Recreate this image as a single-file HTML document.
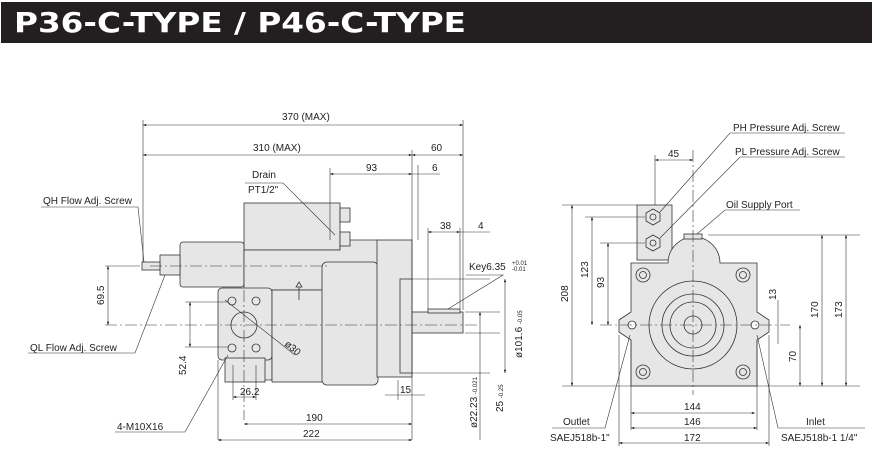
<!DOCTYPE html>
<html><head><meta charset="utf-8"><style>
body{margin:0;background:#fff;}
svg{display:block;font-family:"Liberation Sans",sans-serif;}
</style></head><body>
<svg width="872" height="464" viewBox="0 0 872 464" xmlns="http://www.w3.org/2000/svg">
<defs>
<marker id="a" viewBox="0 0 8 6" refX="8" refY="3" markerWidth="6" markerHeight="4" orient="auto-start-reverse"><path d="M0,0L8,3L0,6z" fill="#222"/></marker>
</defs>
<rect x="1" y="2" width="871" height="41" fill="#231f20"/>
<text x="14" y="32" font-size="28" font-weight="900" fill="#fff" textLength="452" lengthAdjust="spacingAndGlyphs" style="font-family:'DejaVu Sans','Liberation Sans',sans-serif">P36-C-TYPE / P46-C-TYPE</text>

<g stroke="#333" stroke-width="0.8" fill="#e6e6e6">
<rect x="244" y="203" width="96" height="47"/>
<rect x="180" y="242" width="64" height="45" rx="3"/>
<rect x="160" y="255" width="20" height="20"/>
<rect x="142" y="262" width="18" height="8"/>
<path d="M244,250 L340,250 L340,240 L378,240 L378,290 L272,290 L272,380 L244,380 Z"/>
<rect x="218" y="288" width="54" height="72" rx="4"/>
<rect x="225" y="358" width="40" height="24"/>
<rect x="272" y="290" width="52" height="92"/>
<rect x="322" y="262" width="56" height="123" rx="5"/>
<rect x="377" y="240" width="35" height="137"/>
<rect x="400" y="279" width="12" height="94"/>
<rect x="412" y="312" width="51" height="21"/>
<rect x="428" y="309" width="32" height="4"/>
<circle cx="244" cy="325" r="13" fill="#e6e6e6"/>
<circle cx="232" cy="301" r="4"/><circle cx="256" cy="301" r="4"/>
<circle cx="232" cy="348" r="4"/><circle cx="256" cy="348" r="4"/>
<rect x="340" y="208" width="10" height="14"/><rect x="340" y="232" width="10" height="14"/>
<path d="M299,287 L299,300 M296,287 L302,287 L299,282 Z" fill="none"/>

<rect x="637" y="205" width="35" height="55"/>
<path d="M631,263 L668,263 A26,26 0 0 1 720,263 L757,263 L757,312 L769,320 L769,332 L757,340 L757,386 L631,386 L631,340 L619,332 L619,320 L631,312 Z"/>
<rect x="684" y="234" width="18" height="5"/>
<circle cx="693" cy="325" r="44"/>
<circle cx="693" cy="325" r="31"/>
<circle cx="693" cy="325" r="23"/>
<circle cx="693" cy="325" r="9"/>
<path d="M653,209 l7,4 v8 l-7,4 l-7,-4 v-8z"/><circle cx="653" cy="217" r="3"/>
<path d="M653,235 l7,4 v8 l-7,4 l-7,-4 v-8z"/><circle cx="653" cy="243" r="3"/>
<circle cx="643" cy="275" r="7"/><circle cx="643" cy="275" r="3.5"/>
<circle cx="743" cy="275" r="7"/><circle cx="743" cy="275" r="3.5"/>
<circle cx="643" cy="372" r="7"/><circle cx="643" cy="372" r="3.5"/>
<circle cx="743" cy="372" r="7"/><circle cx="743" cy="372" r="3.5"/>
<circle cx="632" cy="325" r="4" fill="#fff"/><circle cx="755" cy="325" r="4" fill="#fff"/>
</g>

<g stroke="#333" stroke-width="0.6" stroke-dasharray="12,3,2,3" fill="none">
<line x1="105" y1="325" x2="480" y2="325"/>
<line x1="150" y1="266" x2="330" y2="266"/>
<line x1="600" y1="325" x2="790" y2="325"/>
<line x1="693" y1="150" x2="693" y2="395"/>
<line x1="244" y1="290" x2="244" y2="420"/>
</g>

<g stroke="#333" stroke-width="0.6" fill="none">
<line x1="143" y1="120" x2="143" y2="262"/>
<line x1="463" y1="120" x2="463" y2="310"/>
<line x1="412" y1="150" x2="412" y2="440"/>
<line x1="418" y1="165" x2="418" y2="240"/>
<line x1="330" y1="168" x2="330" y2="240"/>
<line x1="428" y1="228" x2="428" y2="309"/>
<line x1="460" y1="228" x2="460" y2="309"/>
<line x1="218" y1="360" x2="218" y2="440"/>
<line x1="233" y1="365" x2="233" y2="400"/><line x1="256" y1="365" x2="256" y2="400"/>
<line x1="105" y1="266" x2="140" y2="266"/>
<line x1="185" y1="302" x2="228" y2="302"/><line x1="185" y1="347" x2="228" y2="347"/>
<line x1="465" y1="312" x2="500" y2="312"/><line x1="465" y1="333" x2="500" y2="333"/>
<line x1="412" y1="279" x2="490" y2="279"/><line x1="412" y1="373" x2="490" y2="373"/>
<line x1="398" y1="380" x2="398" y2="400"/>
<line x1="143" y1="125" x2="463" y2="125" marker-start="url(#a)" marker-end="url(#a)"/>
<line x1="143" y1="155" x2="412" y2="155" marker-start="url(#a)" marker-end="url(#a)"/>
<line x1="412" y1="155" x2="463" y2="155" marker-start="url(#a)" marker-end="url(#a)"/>
<line x1="330" y1="174" x2="412" y2="174" marker-start="url(#a)" marker-end="url(#a)"/>
<line x1="412" y1="174" x2="440" y2="174"/>
<line x1="428" y1="232" x2="460" y2="232" marker-start="url(#a)" marker-end="url(#a)"/>
<line x1="460" y1="232" x2="490" y2="232"/>
<line x1="108" y1="266" x2="108" y2="325" marker-start="url(#a)" marker-end="url(#a)"/>
<line x1="190" y1="302" x2="190" y2="347" marker-start="url(#a)" marker-end="url(#a)"/>
<line x1="233" y1="397" x2="256" y2="397" marker-start="url(#a)" marker-end="url(#a)"/>
<line x1="385" y1="395" x2="425" y2="395"/>
<line x1="244" y1="424" x2="412" y2="424" marker-start="url(#a)" marker-end="url(#a)"/>
<line x1="218" y1="440" x2="412" y2="440" marker-start="url(#a)" marker-end="url(#a)"/>
<line x1="480" y1="312" x2="480" y2="440" marker-start="url(#a)"/>
<line x1="505" y1="279" x2="505" y2="373" marker-start="url(#a)" marker-end="url(#a)"/>
<polyline points="41,207 138,207 144,262"/>
<polyline points="245,183 283,183 335,235"/>
<polyline points="28,353 135,353 165,275"/>
<polyline points="115,432 185,432 228,355"/>
<polyline points="225,300 295,355"/>
<polyline points="466,275 503,275 448,309"/>
<line x1="562" y1="205" x2="637" y2="205"/>
<line x1="562" y1="386" x2="860" y2="386"/>
<line x1="585" y1="217" x2="645" y2="217"/>
<line x1="600" y1="243" x2="645" y2="243"/>
<line x1="708" y1="235" x2="860" y2="235"/>
<line x1="572" y1="205" x2="572" y2="386" marker-start="url(#a)" marker-end="url(#a)"/>
<line x1="592" y1="217" x2="592" y2="325" marker-start="url(#a)" marker-end="url(#a)"/>
<line x1="608" y1="243" x2="608" y2="325" marker-start="url(#a)" marker-end="url(#a)"/>
<line x1="822" y1="235" x2="822" y2="386" marker-start="url(#a)" marker-end="url(#a)"/>
<line x1="846" y1="235" x2="846" y2="386" marker-start="url(#a)" marker-end="url(#a)"/>
<line x1="800" y1="325" x2="800" y2="386" marker-start="url(#a)" marker-end="url(#a)"/>
<line x1="778" y1="300" x2="778" y2="344"/>
<line x1="655" y1="155" x2="655" y2="205"/>
<line x1="655" y1="160" x2="693" y2="160" marker-start="url(#a)" marker-end="url(#a)"/>
<line x1="631" y1="340" x2="631" y2="430"/><line x1="757" y1="340" x2="757" y2="430"/>
<line x1="619" y1="335" x2="619" y2="446"/><line x1="769" y1="335" x2="769" y2="446"/>
<line x1="631" y1="413" x2="755" y2="413" marker-start="url(#a)" marker-end="url(#a)"/>
<line x1="631" y1="428" x2="757" y2="428" marker-start="url(#a)" marker-end="url(#a)"/>
<line x1="619" y1="443" x2="769" y2="443" marker-start="url(#a)" marker-end="url(#a)"/>
<polyline points="845,133 730,133 660,212"/>
<polyline points="845,157 740,157 660,238"/>
<polyline points="800,210 725,210 697,234"/>
<polyline points="552,428 605,428 630,335"/>
<polyline points="865,428 778,428 757,335"/>
</g>

<g font-size="10" fill="#222">
<text x="282" y="120">370 (MAX)</text>
<text x="253" y="151">310 (MAX)</text>
<text x="431" y="151">60</text>
<text x="366" y="171">93</text>
<text x="432" y="171">6</text>
<text x="252" y="178">Drain</text>
<text x="248" y="193">PT1/2"</text>
<text x="43" y="204">QH Flow Adj. Screw</text>
<text x="440" y="229">38</text>
<text x="478" y="229">4</text>
<text x="469" y="270">Key6.35</text>
<text x="512" y="265" font-size="6">+0.01</text>
<text x="512" y="271" font-size="6">-0.01</text>
<text x="30" y="351">QL Flow Adj. Screw</text>
<text x="240" y="395">26.2</text>
<text x="400" y="393">15</text>
<text x="306" y="421">190</text>
<text x="303" y="437">222</text>
<text x="117" y="430">4-M10X16</text>
<text transform="translate(104,305) rotate(-90)">69.5</text>
<text transform="translate(186,375) rotate(-90)">52.4</text>
<text transform="translate(284,345) rotate(40)">ø30</text>
<text transform="translate(477,428) rotate(-90)">ø22.23 <tspan font-size="6">-0.021</tspan></text>
<text transform="translate(503,412) rotate(-90)">25 <tspan font-size="6">-0.25</tspan></text>
<text transform="translate(522,358) rotate(-90)">ø101.6 <tspan font-size="6">-0.05</tspan></text>
<text x="733" y="131">PH Pressure Adj. Screw</text>
<text x="735" y="155">PL Pressure Adj. Screw</text>
<text x="726" y="208">Oil Supply Port</text>
<text x="668" y="157">45</text>
<text transform="translate(568,302) rotate(-90)">208</text>
<text transform="translate(588,278) rotate(-90)">123</text>
<text transform="translate(604,288) rotate(-90)">93</text>
<text transform="translate(818,318) rotate(-90)">170</text>
<text transform="translate(842,318) rotate(-90)">173</text>
<text transform="translate(796,362) rotate(-90)">70</text>
<text transform="translate(776,300) rotate(-90)">13</text>
<text x="684" y="410">144</text>
<text x="684" y="425">146</text>
<text x="684" y="441">172</text>
<text x="563" y="425">Outlet</text>
<text x="550" y="441">SAEJ518b-1"</text>
<text x="806" y="425">Inlet</text>
<text x="781" y="441">SAEJ518b-1 1/4"</text>
</g>
</svg>
</body></html>
